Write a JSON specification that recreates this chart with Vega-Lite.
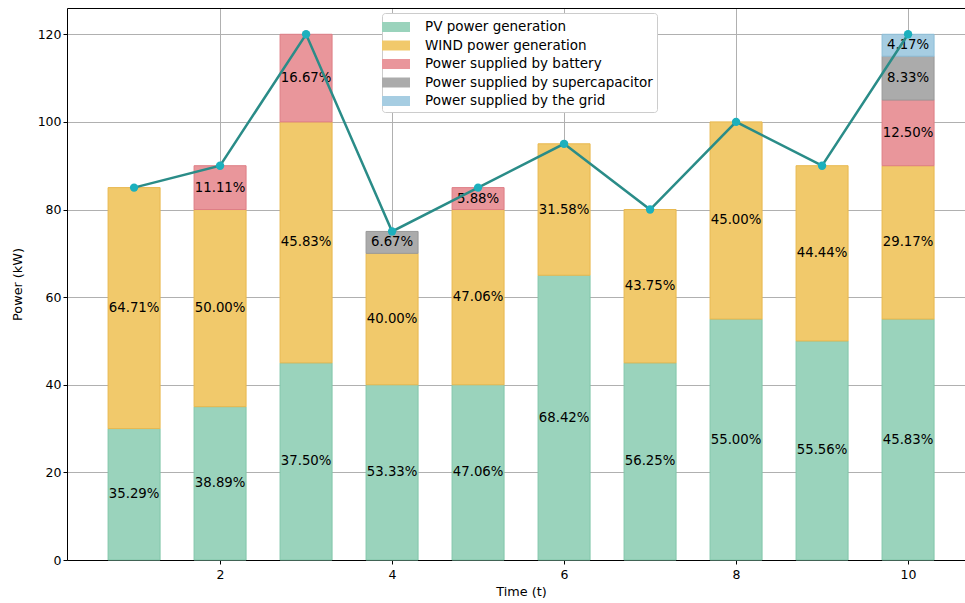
{
  "$schema": "https://vega.github.io/schema/vega-lite/v6.json",
  "width": 898,
  "height": 552,
  "autosize": "none",
  "padding": {"left": 67, "top": 8, "right": 0, "bottom": 43},
  "config": {
    "font": "DejaVu Sans",
    "view": {"stroke": null},
    "axis": {
      "labelFontSize": 12.5,
      "labelColor": "black",
      "titleFontSize": 12.8,
      "titleFontWeight": "normal",
      "titleColor": "black",
      "tickColor": "black",
      "tickSize": 4,
      "domainColor": "black",
      "gridColor": "#b0b0b0",
      "gridWidth": 1,
      "zindex": 1
    }
  },
  "resolve": {"axis": {"x": "independent"}},
  "data": {
    "values": [
      {"t": 1, "source": "PV power generation", "i": 1, "kW": 30},
      {"t": 1, "source": "WIND power generation", "i": 2, "kW": 55},
      {"t": 2, "source": "PV power generation", "i": 1, "kW": 35},
      {"t": 2, "source": "WIND power generation", "i": 2, "kW": 45},
      {"t": 2, "source": "Power supplied by battery", "i": 3, "kW": 10},
      {"t": 3, "source": "PV power generation", "i": 1, "kW": 45},
      {"t": 3, "source": "WIND power generation", "i": 2, "kW": 55},
      {"t": 3, "source": "Power supplied by battery", "i": 3, "kW": 20},
      {"t": 4, "source": "PV power generation", "i": 1, "kW": 40},
      {"t": 4, "source": "WIND power generation", "i": 2, "kW": 30},
      {"t": 4, "source": "Power supplied by supercapacitor", "i": 4, "kW": 5},
      {"t": 5, "source": "PV power generation", "i": 1, "kW": 40},
      {"t": 5, "source": "WIND power generation", "i": 2, "kW": 40},
      {"t": 5, "source": "Power supplied by battery", "i": 3, "kW": 5},
      {"t": 6, "source": "PV power generation", "i": 1, "kW": 65},
      {"t": 6, "source": "WIND power generation", "i": 2, "kW": 30},
      {"t": 7, "source": "PV power generation", "i": 1, "kW": 45},
      {"t": 7, "source": "WIND power generation", "i": 2, "kW": 35},
      {"t": 8, "source": "PV power generation", "i": 1, "kW": 55},
      {"t": 8, "source": "WIND power generation", "i": 2, "kW": 45},
      {"t": 9, "source": "PV power generation", "i": 1, "kW": 50},
      {"t": 9, "source": "WIND power generation", "i": 2, "kW": 40},
      {"t": 10, "source": "PV power generation", "i": 1, "kW": 55},
      {"t": 10, "source": "WIND power generation", "i": 2, "kW": 35},
      {"t": 10, "source": "Power supplied by battery", "i": 3, "kW": 15},
      {"t": 10, "source": "Power supplied by supercapacitor", "i": 4, "kW": 10},
      {"t": 10, "source": "Power supplied by the grid", "i": 5, "kW": 5}
    ]
  },
  "layer": [
    {
      "mark": {"type": "bar", "size": 52, "strokeWidth": 1},
      "encoding": {
        "x": {
          "field": "t", "type": "quantitative",
          "scale": {"domain": [0.22, 10.662], "nice": false, "zero": false, "padding": 0},
          "axis": {"values": [2, 4, 6, 8, 10], "format": "d", "title": "Time (t)", "grid": true, "labelPadding": 4, "titlePadding": 5, "titleX": 454}
        },
        "y": {
          "field": "kW", "type": "quantitative", "aggregate": "sum", "stack": "zero",
          "scale": {"domain": [0, 126], "nice": false, "padding": 0},
          "axis": {"values": [0, 20, 40, 60, 80, 100, 120], "title": "Power (kW)", "grid": true, "titlePadding": 13}
        },
        "color": {
          "field": "source", "type": "nominal",
          "scale": {
            "domain": ["PV power generation", "WIND power generation", "Power supplied by battery", "Power supplied by supercapacitor", "Power supplied by the grid"],
            "range": ["#9ad3bc", "#f1c96b", "#e9969b", "#ababab", "#a6cde2"]
          },
          "legend": {
            "title": null,
            "orient": "none",
            "legendX": 315,
            "legendY": 5,
            "labelFontSize": 13.5,
            "labelColor": "black",
            "labelLimit": 500,
            "symbolType": "M-1.4,-0.5H1.4V0.5H-1.4Z",
            "symbolSize": 400,
            "symbolStrokeWidth": 0,
            "symbolOpacity": 1,
            "labelOffset": 19,
            "rowPadding": 1.5,
            "padding": 4,
            "strokeColor": "#cccccc",
            "fillColor": "white",
            "cornerRadius": 3
          }
        },
        "stroke": {
          "field": "source", "type": "nominal",
          "scale": {
            "domain": ["PV power generation", "WIND power generation", "Power supplied by battery", "Power supplied by supercapacitor", "Power supplied by the grid"],
            "range": ["#82c6aa", "#e8b84f", "#de7e86", "#999999", "#8dbdd7"]
          },
          "legend": null
        },
        "order": {"field": "i", "type": "quantitative"}
      }
    },
    {
      "transform": [
        {"joinaggregate": [{"op": "sum", "field": "kW", "as": "total"}], "groupby": ["t"]},
        {"stack": "kW", "groupby": ["t"], "sort": [{"field": "i", "order": "ascending"}], "as": ["y0", "y1"]},
        {"calculate": "(datum.y0 + datum.y1) / 2", "as": "mid"},
        {"calculate": "datum.kW / datum.total", "as": "pct"}
      ],
      "mark": {"type": "text", "fontSize": 13.3, "color": "black", "baseline": "middle", "align": "center"},
      "encoding": {
        "x": {"field": "t", "type": "quantitative", "axis": null},
        "y": {"field": "mid", "type": "quantitative"},
        "text": {"field": "pct", "type": "quantitative", "format": ".2%"}
      }
    },
    {
      "transform": [
        {"aggregate": [{"op": "sum", "field": "kW", "as": "total"}], "groupby": ["t"]}
      ],
      "mark": {
        "type": "line",
        "color": "#2a8c88",
        "strokeWidth": 2.5,
        "point": {"filled": true, "fill": "#1cb0bd", "size": 70, "opacity": 1}
      },
      "encoding": {
        "x": {
          "field": "t", "type": "quantitative",
          "axis": {"orient": "top", "labels": false, "ticks": false, "grid": false, "title": null, "domain": true}
        },
        "y": {"field": "total", "type": "quantitative"}
      }
    }
  ]
}
